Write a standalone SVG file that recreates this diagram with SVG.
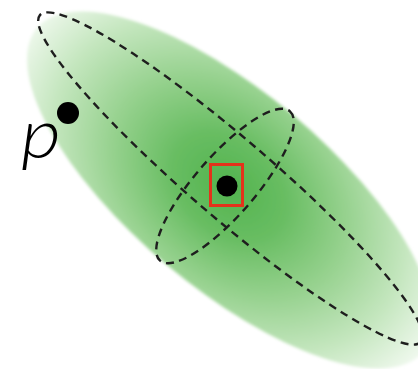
<svg xmlns="http://www.w3.org/2000/svg" width="418" height="369" viewBox="0 0 418 369">
  <defs>
    <radialGradient id="g" gradientUnits="userSpaceOnUse" cx="-3" cy="-3" r="252" gradientTransform="scale(1,0.72)">
      <stop offset="0" stop-color="#52b34e"/>
      <stop offset="0.25" stop-color="#68bd62"/>
      <stop offset="0.5" stop-color="#93d08b"/>
      <stop offset="0.78" stop-color="#c4e6be"/>
      <stop offset="1" stop-color="#eef8ec"/>
    </radialGradient>
    <filter id="soft" x="-10%" y="-10%" width="120%" height="120%">
      <feGaussianBlur stdDeviation="1.5"/>
    </filter>
  </defs>
  <style>
    .dash { fill: none; stroke: #1e1e1e; stroke-width: 2.4; stroke-dasharray: 8 5.5; }
    .dot { fill: #000; }
  </style>
  <rect width="418" height="369" fill="#ffffff"/>
  <g id="region" transform="translate(230,190) rotate(40)">
    <ellipse cx="0" cy="0" rx="252" ry="98" fill="url(#g)" filter="url(#soft)"/>
  </g>
  <g id="connectors">
    <ellipse class="dash" cx="0" cy="0" rx="251" ry="40" transform="translate(230.5,178.5) rotate(40.6)"/>
    <ellipse class="dash" cx="0" cy="0" rx="99" ry="30" transform="translate(225,186) rotate(-49)"/>
  </g>
  <g id="center">
    <rect x="210.5" y="164.5" width="32" height="41" fill="none" stroke="#e4321b" stroke-width="3"/>
    <circle class="dot" cx="227" cy="186" r="10.5"/>
  </g>
  <g id="point-p">
    <circle class="dot" cx="68" cy="113" r="11"/>
    <text transform="translate(21,157.5) scale(1.12,1)" font-family="Lato, 'Liberation Sans', sans-serif" font-weight="300" font-style="italic" font-size="69" fill="#000">p</text>
  </g>
</svg>
